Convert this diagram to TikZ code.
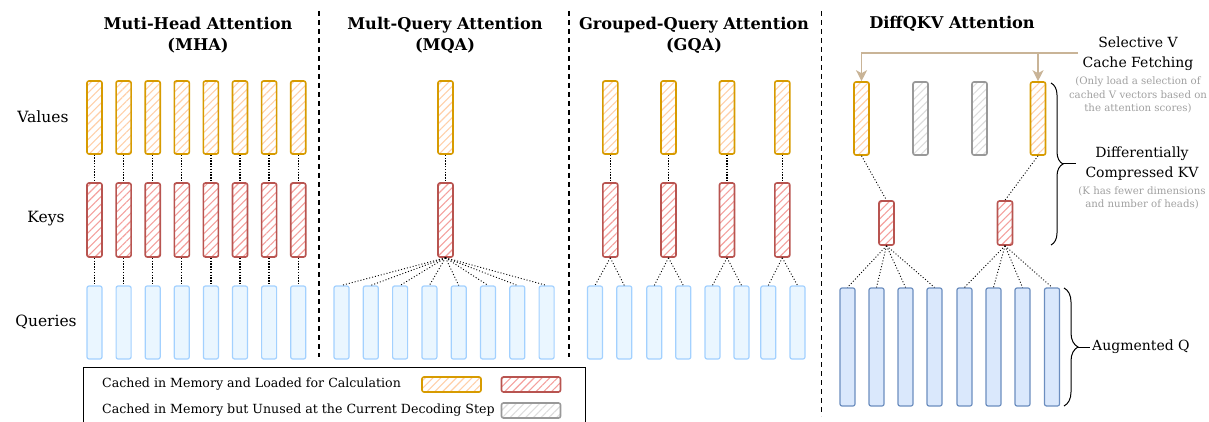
\documentclass[tikz,border=0pt]{standalone}
\usepackage{fontspec}
\setmainfont{DejaVu Serif}
\usetikzlibrary{patterns.meta,arrows.meta,decorations.pathreplacing}
\definecolor{vborder}{HTML}{D79B00}
\definecolor{vhatch}{HTML}{FFCFA8}
\definecolor{kborder}{HTML}{B85450}
\definecolor{khatch}{HTML}{F4A09D}
\definecolor{gborder}{HTML}{999999}
\definecolor{ghatch}{HTML}{DDDDDD}
\definecolor{qfill}{HTML}{EAF6FF}
\definecolor{qborder}{HTML}{A3D1FF}
\definecolor{dqfill}{HTML}{DAE8FC}
\definecolor{dqborder}{HTML}{6C8EBF}
\definecolor{tanarrow}{HTML}{C9B497}
\definecolor{notegray}{HTML}{A0A0A0}
\tikzset{
  bar/.style={draw, rounded corners=2pt, minimum width=15pt, inner sep=0pt},
  vbar/.style={bar, draw=vborder, line width=1.6pt, minimum height=73pt,
    pattern={Lines[angle=45,distance=5.5pt,line width=1.1pt]}, pattern color=vhatch},
  kbar/.style={bar, draw=kborder, line width=1.6pt, minimum height=74pt,
    pattern={Lines[angle=45,distance=5.5pt,line width=1.1pt]}, pattern color=khatch},
  gbar/.style={bar, draw=gborder, line width=1.6pt, minimum height=73pt,
    pattern={Lines[angle=45,distance=5.5pt,line width=1.1pt]}, pattern color=ghatch},
  qbar/.style={bar, draw=qborder, fill=qfill, line width=1.2pt, minimum height=73pt},
  dqbar/.style={bar, draw=dqborder, fill=dqfill, line width=1.2pt, minimum height=118pt},
  vconn/.style={line width=1.3pt, dash pattern=on 1.4pt off 1.4pt},
  fconn/.style={line width=0.9pt, dash pattern=on 1pt off 2pt},
  sep/.style={line width=1.5pt, dash pattern=on 5pt off 4pt},
  ttl/.style={font=\bfseries\fontsize{16.2}{21}\selectfont, align=center},
  rowlbl/.style={font=\fontsize{15.5}{18}\selectfont},
  rlbl/.style={font=\fontsize{14}{20}\selectfont, align=center},
  note/.style={font=\fontsize{10.2}{13.8}\selectfont, text=notegray, align=center},
  lgd/.style={font=\fontsize{12.6}{15}\selectfont, anchor=west},
  brc/.style={decorate, decoration={brace, amplitude=12pt}, line width=1pt},
  tarrow/.style={draw=tanarrow, line width=1.5pt},
}
\begin{document}
\begin{tikzpicture}[x=1pt,y=-1pt]
\useasboundingbox (0,0) rectangle (1209,422);

% separators
\coordinate (s1t) at (319,11); \coordinate (s1b) at (319,357);
\coordinate (s2t) at (569,11); \coordinate (s2b) at (569,357);
\coordinate (s3t) at (821.5,11); \coordinate (s3b) at (821.5,416);
\draw[sep] (s1t) -- (s1b);
\draw[sep] (s2t) -- (s2b);
\draw[sep] (s3t) -- (s3b);

% titles
\node[ttl] (t1) at (198,35) {Muti-Head Attention\\(MHA)};
\node[ttl] (t2) at (445,35) {Mult-Query Attention\\(MQA)};
\node[ttl] (t3) at (694,35) {Grouped-Query Attention\\(GQA)};
\node[ttl] (t4) at (952,24) {DiffQKV Attention};

% row labels
\node[rowlbl] (lv) at (43,117) {Values};
\node[rowlbl] (lk) at (46,219) {Keys};
\node[rowlbl] (lq) at (46,322) {Queries};

% MHA
\foreach \i in {1,...,8} {
  \pgfmathsetmacro{\xx}{94.5+29.1*(\i-1)}
  \node[vbar] (mv\i) at (\xx,117.5) {};
  \node[kbar] (mk\i) at (\xx,220) {};
  \node[qbar] (mq\i) at (\xx,322.5) {};
  \draw[vconn] (mv\i.south) -- (mk\i.north);
  \draw[vconn] (mk\i.south) -- (mq\i.north);
}

% MQA
\node[vbar] (qv) at (445.5,117.5) {};
\node[kbar] (qk) at (445.5,220) {};
\draw[vconn] (qv.south) -- (qk.north);
\foreach \i in {1,...,8} {
  \pgfmathsetmacro{\xx}{341.5+29.3*(\i-1)}
  \node[qbar] (qq\i) at (\xx,322.5) {};
  \draw[fconn] (qk.south) -- (qq\i.north);
}

% GQA
\foreach \i/\xx in {1/610.3,2/668.5,3/727,4/782.3} {
  \node[vbar] (gv\i) at (\xx,117.5) {};
  \node[kbar] (gk\i) at (\xx,220) {};
  \draw[vconn] (gv\i.south) -- (gk\i.north);
}
\foreach \i/\xx/\k in {1/595/1,2/624.3/1,3/654.3/2,4/683.3/2,5/712.5/3,6/741.5/3,7/768.3/4,8/797.5/4} {
  \node[qbar] (gq\i) at (\xx,322.5) {};
  \draw[fconn] (gk\k.south) -- (gq\i.north);
}

% DiffQKV
\node[vbar] (dv1) at (861.5,118.5) {};
\node[gbar] (dv2) at (920.5,118.5) {};
\node[gbar] (dv3) at (979.5,118.5) {};
\node[vbar] (dv4) at (1038,118.5) {};
\node[kbar, minimum height=44pt] (dk1) at (886.5,223) {};
\node[kbar, minimum height=44pt] (dk2) at (1005,223) {};
\draw[fconn] (dv1.south) -- (dk1.north);
\draw[fconn] (dv4.south) -- (dk2.north);
\foreach \i/\xx/\k in {1/847.5/1,2/876.5/1,3/905.5/1,4/934.5/1,5/964.5/2,6/993.5/2,7/1022.5/2,8/1052/2} {
  \node[dqbar] (dq\i) at (\xx,347) {};
  \draw[fconn] (dk\k.south) -- (dq\i.north);
}

% selective V arrows
\coordinate (ta0) at (1078,53);
\coordinate (ta1) at (861.5,53);
\coordinate (ta2) at (1038,53);
\draw[tarrow, -{Stealth[length=11pt,width=11pt,inset=3pt]}] (ta0) -- (ta1) -- (dv1.north);
\draw[tarrow, -{Stealth[length=11pt,width=11pt,inset=3pt]}] (ta2) -- (dv4.north);

\node[rlbl] (sv) at (1138,53.5) {Selective V\\Cache Fetching};
\node[note] (svn) at (1138,95) {(Only load a selection of\\cached V vectors based on\\the attention scores)};

% braces
\coordinate (b1t) at (1051,83); \coordinate (b1b) at (1051,245);
\draw[brc] (b1t) -- (b1b);
\coordinate (b1tip) at (1063,164); \coordinate (b1end) at (1076,164);
\draw[line width=1pt] (b1tip) -- (b1end);
\node[rlbl] (dk) at (1142,163.5) {Differentially\\Compressed KV};
\node[note] (dkn) at (1142,198) {(K has fewer dimensions\\and number of heads)};

\coordinate (b2t) at (1064,288); \coordinate (b2b) at (1064,406);
\draw[brc, decoration={amplitude=14pt}] (b2t) -- (b2b);
\coordinate (b2tip) at (1078,347); \coordinate (b2end) at (1090,347);
\draw[line width=1pt] (b2tip) -- (b2end);
\node[rlbl, anchor=west, inner sep=1pt] (aq) at (1091,347) {Augmented Q};

% legend
\node[draw, line width=1pt, minimum width=502pt, minimum height=60pt, anchor=north west, inner sep=0pt] (lg) at (83,367) {};
\node[lgd, inner sep=0pt] (l1) at (102,384) {Cached in Memory and Loaded for Calculation};
\node[lgd, inner sep=0pt] (l2) at (102,410) {Cached in Memory but Unused at the Current Decoding Step};
\node[bar, draw=vborder, line width=1.6pt, minimum width=59pt, minimum height=15pt,
  pattern={Lines[angle=45,distance=5.5pt,line width=1.1pt]}, pattern color=vhatch] (sw1) at (451.5,384.5) {};
\node[bar, draw=kborder, line width=1.6pt, minimum width=59pt, minimum height=15pt,
  pattern={Lines[angle=45,distance=5.5pt,line width=1.1pt]}, pattern color=khatch] (sw2) at (531,384.5) {};
\node[bar, draw=gborder, line width=1.6pt, minimum width=59pt, minimum height=15pt,
  pattern={Lines[angle=45,distance=5.5pt,line width=1.1pt]}, pattern color=ghatch] (sw3) at (531,410.5) {};
\end{tikzpicture}
\end{document}
